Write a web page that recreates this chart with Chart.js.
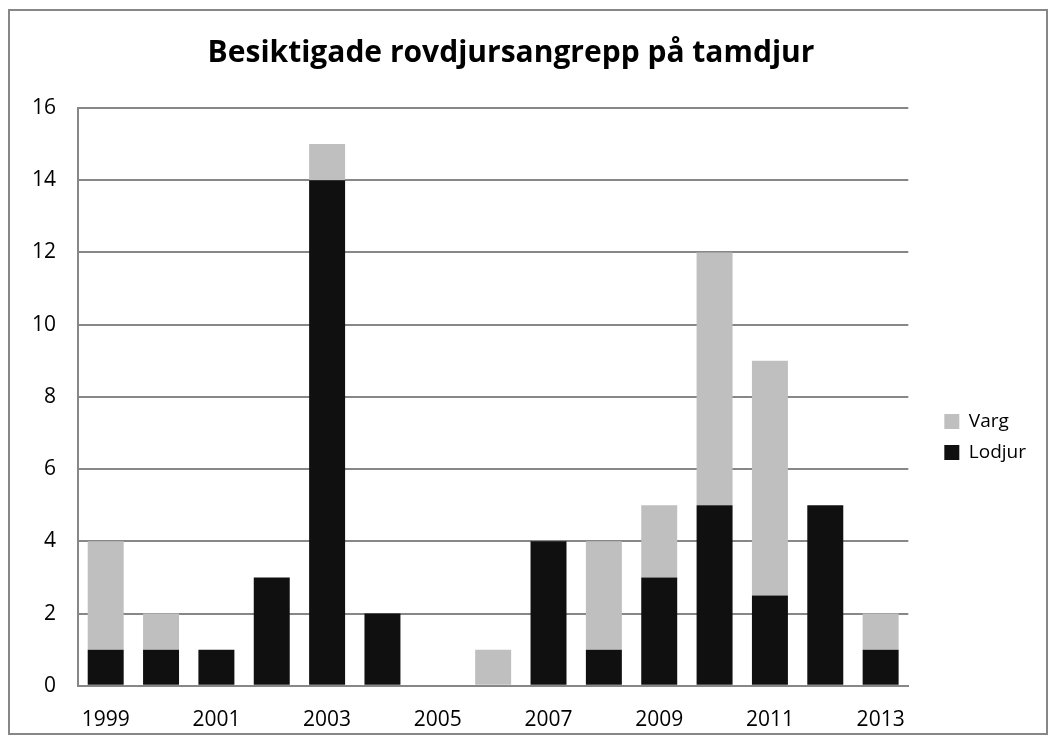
<!DOCTYPE html>
<html>
<head>
<meta charset="utf-8">
<script src="https://cdn.jsdelivr.net/npm/chart.js@4"></script>
<style>
  body { margin: 0; background: #fff; }
  .frame {
    position: absolute; left: 8px; top: 9px;
    width: 1036px; height: 722px;
    border: 2px solid #878787;
    overflow: hidden;
  }
</style>
</head>
<body>
<div class="frame"><canvas id="myChart" width="1036" height="726"></canvas></div>
<script>
const ctx = document.getElementById('myChart').getContext('2d');

const years = ['1999', '2000', '2001', '2002', '2003', '2004', '2005', '2006',
  '2007', '2008', '2009', '2010', '2011', '2012', '2013'];
const lodjur = [1, 1, 1, 3, 14, 2, 0, 0, 4, 1, 3, 5, 2.5, 5, 1];
const varg = [3, 1, 0, 0, 1, 0, 0, 1, 0, 3, 2, 7, 6.5, 0, 1];
const yTicks = [0, 2, 4, 6, 8, 10, 12, 14, 16];

const font = "'Open Sans', 'Liberation Sans', sans-serif";

// push the legend a bit away from the plot and down, like Excel does
const moveLegend = {
  id: 'moveLegend',
  afterLayout(chart) {
    const lg = chart.legend;
    lg.left += 24; lg.right += 24;
    lg.top += 50; lg.bottom += 50;
  }
};

const data = {
  labels: years,
  datasets: [
    {
      label: 'Lodjur',
      data: lodjur,
      backgroundColor: '#101010',
      barPercentage: 0.65,
      categoryPercentage: 1
    },
    {
      label: 'Varg',
      data: varg,
      backgroundColor: '#bfbfbf',
      barPercentage: 0.65,
      categoryPercentage: 1
    }
  ]
};

const config = {
  type: 'bar',
  data: data,
  plugins: [moveLegend],
  options: {
    responsive: false,
    animation: false,
    layout: { padding: { left: 0, right: 34, top: 8, bottom: -18 } },
    plugins: {
      title: {
        display: true,
        text: 'Besiktigade rovdjursangrepp på tamdjur',
        color: '#000',
        font: { family: font, size: 30, weight: 'bold' },
        padding: { top: 16, bottom: 37 }
      },
      legend: {
        position: 'right',
        reverse: true,
        labels: {
          color: '#000',
          font: { family: font, size: 19 },
          boxWidth: 15,
          boxHeight: 15,
          padding: 12
        }
      },
      tooltip: { enabled: false }
    },
    scales: {
      x: {
        stacked: true,
        grid: { display: false, drawTicks: false },
        border: { color: '#878787', width: 2 },
        ticks: {
          color: '#000',
          font: { family: font, size: 21 },
          padding: 22,
          autoSkip: false,
          maxRotation: 0,
          callback: (v, i) => (i % 2 === 0 ? years[i] : '')
        }
      },
      y: {
        stacked: true,
        min: 0,
        max: 16,
        afterBuildTicks: axis => { axis.ticks = yTicks.map(v => ({ value: v })); },
        grid: { color: '#878787', lineWidth: 2, drawTicks: false },
        border: { color: '#878787', width: 2 },
        ticks: {
          color: '#000',
          font: { family: font, size: 21 },
          padding: 22
        }
      }
    }
  }
};

const myChart = new Chart(ctx, config);
</script>
</body>
</html>
